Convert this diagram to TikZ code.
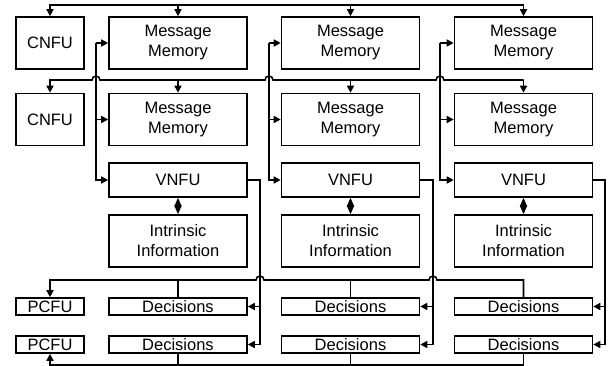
\documentclass[tikz,border=0pt]{standalone}
\usepackage{fontspec}
\setmainfont{Liberation Sans}
\usetikzlibrary{arrows.meta}
\begin{document}
\begin{tikzpicture}[x=1pt,y=-1pt, line width=1.6pt,
  box/.style={draw, inner sep=0pt, align=center, font=\fontsize{16.5}{20}\selectfont},
  big/.style={box, minimum width=138pt, minimum height=52pt},
  unit/.style={box, minimum width=68pt, minimum height=52pt},
  midbox/.style={box, minimum width=138pt, minimum height=34pt},
  thin/.style={box, minimum width=138pt, minimum height=17pt},
  thinunit/.style={box, minimum width=68pt, minimum height=17pt},
  arr/.style={-{Triangle[length=7pt,width=7pt]}},
  dia/.style={{Triangle[length=8.5pt,width=7pt]}-{Triangle[length=8.5pt,width=7pt]}}]
\useasboundingbox (0,0) rectangle (613,366);
% nodes
\node[unit] (cnfu1) at (50,43) {CNFU};
\node[unit] (cnfu2) at (50,119.5) {CNFU};
\foreach \c/\x in {1/178,2/350.5,3/523.5}{
  \node[big] (mm\c1) at (\x,43) {Message\\Memory};
  \node[big] (mm\c2) at (\x,119.5) {Message\\Memory};
  \node[midbox] (vnfu\c) at (\x,180) {VNFU};
  \node[big] (ii\c) at (\x,241) {Intrinsic\\Information};
  \node[thin] (dec\c1) at (\x,306.5) {Decisions};
  \node[thin] (dec\c2) at (\x,344.5) {Decisions};
  \draw[dia] (vnfu\c.south) -- (ii\c.north);
}
\node[thinunit] (pcfu1) at (50,306.5) {PCFU};
\node[thinunit] (pcfu2) at (50,344.5) {PCFU};
% vertical feeds into memories and VNFU
\coordinate (v1) at (96,43);
\coordinate (v2) at (269,43);
\coordinate (v3) at (440,43);
\foreach \c in {1,2,3}{
  \draw[arr] (v\c) -- (mm\c1.west);
  \draw[arr] (v\c) |- (vnfu\c.west);
  \draw[arr] (v\c|-mm\c2.west) -- (mm\c2.west);
}
% VNFU outputs
\coordinate (o1) at (260,0);
\coordinate (o2) at (433,0);
\coordinate (o3) at (605,0);
\foreach \c in {1,2,3}{
  \draw[arr] (vnfu\c.east) -| (o\c|-dec\c2.east) -- (dec\c2.east);
  \draw[arr] (o\c|-dec\c1.east) -- (dec\c1.east);
}
% top bus
\coordinate (ta) at (50,5);
\draw[arr] (mm31.north|-ta) -| (cnfu1.north);
\draw[arr] (mm31.north|-ta) -- (mm31.north);
\draw[arr] (mm21.north|-ta) -- (mm21.north);
\draw[arr] (mm11.north|-ta) -- (mm11.north);
% second bus with jumps
\coordinate (tb) at (50,80);
\draw[arr] (mm32.north|-tb) -- (444,80) arc[start angle=0,end angle=180,radius=4pt]
  -- (273,80) arc[start angle=0,end angle=180,radius=4pt]
  -- (100,80) arc[start angle=0,end angle=180,radius=4pt]
  -- (tb) -- (cnfu2.north);
\draw[arr] (mm32.north|-tb) -- (mm32.north);
\draw[arr] (mm22.north|-tb) -- (mm22.north);
\draw[arr] (mm12.north|-tb) -- (mm12.north);
% decisions bus (upper)
\coordinate (bc) at (50,280);
\draw[arr] (dec31.north) -- (dec31.north|-bc) -- (437,280) arc[start angle=0,end angle=180,radius=4pt]
  -- (264,280) arc[start angle=0,end angle=180,radius=4pt]
  -- (bc) -- (pcfu1.north);
\draw (dec21.north) -- (dec21.north|-bc);
\draw (dec11.north) -- (dec11.north|-bc);
% decisions bus (lower)
\coordinate (bd) at (50,365);
\draw[arr] (dec32.south) |- (bd) -- (pcfu2.south);
\draw (dec22.south) -- (dec22.south|-bd);
\draw (dec12.south) -- (dec12.south|-bd);
\end{tikzpicture}
\end{document}
